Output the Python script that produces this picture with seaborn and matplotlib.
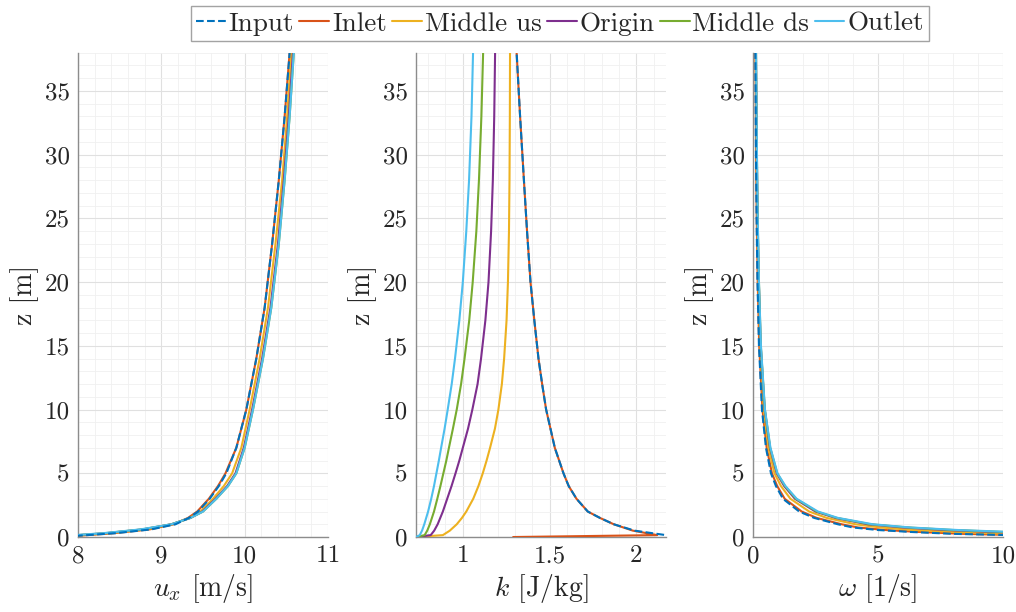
import numpy as np
import pandas as pd
import seaborn as sns
import matplotlib
matplotlib.use("Agg")
import matplotlib.pyplot as plt
from matplotlib.ticker import MultipleLocator, FuncFormatter

# case names, matlab default colours
cases = ["Input", "Inlet", "Middle us", "Origin", "Middle ds", "Outlet"]
colors = ["#0072BD", "#D95319", "#EDB120", "#7E2F8E", "#77AC30", "#4DBEEE"]

# ---- velocity u_x [m/s]
z_u = [0, 0.1, 0.3, 0.6, 1, 1.5, 2, 3, 4, 5, 7, 10, 14, 18, 23, 28, 33, 38]
u_input = [7.7, 8.0, 8.45, 8.88, 9.17, 9.33, 9.44, 9.58, 9.69, 9.78, 9.9, 10.02, 10.14, 10.24, 10.33, 10.41, 10.48, 10.54]
u_inlet = [7.7, 8.0, 8.43, 8.86, 9.15, 9.32, 9.43, 9.57, 9.68, 9.77, 9.9, 10.02, 10.14, 10.24, 10.33, 10.41, 10.48, 10.54]
u_mid_us = [7.65, 7.95, 8.38, 8.82, 9.13, 9.34, 9.47, 9.62, 9.75, 9.85, 9.96, 10.06, 10.18, 10.28, 10.37, 10.45, 10.51, 10.56]
u_origin = [7.62, 7.9, 8.34, 8.78, 9.12, 9.35, 9.49, 9.65, 9.79, 9.89, 9.99, 10.09, 10.21, 10.31, 10.4, 10.47, 10.53, 10.58]
u_mid_ds = [7.6, 7.88, 8.32, 8.77, 9.12, 9.35, 9.5, 9.66, 9.8, 9.9, 10.0, 10.1, 10.22, 10.32, 10.41, 10.48, 10.54, 10.59]
u_outlet = [7.6, 7.85, 8.3, 8.75, 9.12, 9.35, 9.5, 9.66, 9.8, 9.9, 10.0, 10.1, 10.22, 10.32, 10.41, 10.48, 10.54, 10.59]

# ---- turbulent kinetic energy k [J/kg]
z_k = [0, 0.15, 0.5, 1, 1.5, 2, 3, 4, 5, 6, 7, 8.5, 10, 12, 14, 17, 20, 24, 28, 33, 38]
k_input = [2.35, 2.17, 1.99, 1.87, 1.79, 1.72, 1.655, 1.61, 1.58, 1.555, 1.53, 1.505, 1.48, 1.457, 1.436, 1.412, 1.39, 1.37, 1.352, 1.33, 1.31]
k_inlet = [1.29, 2.12, 1.98, 1.87, 1.79, 1.72, 1.655, 1.61, 1.58, 1.555, 1.53, 1.505, 1.48, 1.457, 1.436, 1.412, 1.39, 1.37, 1.352, 1.33, 1.31]
k_mid_us = [0.73, 0.885, 0.925, 0.965, 0.995, 1.02, 1.06, 1.09, 1.115, 1.137, 1.157, 1.185, 1.205, 1.225, 1.238, 1.252, 1.26, 1.266, 1.269, 1.271, 1.272]
k_origin = [0.73, 0.815, 0.835, 0.855, 0.87, 0.885, 0.91, 0.935, 0.958, 0.98, 1.0, 1.03, 1.055, 1.085, 1.105, 1.13, 1.148, 1.163, 1.173, 1.181, 1.186]
k_mid_ds = [0.73, 0.78, 0.795, 0.81, 0.822, 0.834, 0.853, 0.871, 0.888, 0.905, 0.92, 0.943, 0.965, 0.99, 1.01, 1.037, 1.057, 1.078, 1.093, 1.107, 1.117]
k_outlet = [0.73, 0.752, 0.765, 0.778, 0.789, 0.8, 0.818, 0.834, 0.848, 0.862, 0.875, 0.895, 0.913, 0.936, 0.955, 0.98, 1.0, 1.02, 1.036, 1.05, 1.059]

# ---- specific dissipation omega [1/s]
z_w = [0.05, 0.16, 0.25, 0.4, 0.55, 0.75, 1, 1.5, 2, 3, 4, 5, 7, 10, 15, 20, 25, 30, 38]
w_input = [14, 10, 8.0, 6.3, 5.0, 4.0, 3.4, 2.45, 1.85, 1.2, 0.92, 0.72, 0.52, 0.36, 0.24, 0.18, 0.145, 0.12, 0.095]
w_inlet = [14.5, 10.4, 8.4, 6.6, 5.3, 4.2, 3.55, 2.55, 1.95, 1.27, 0.97, 0.76, 0.55, 0.38, 0.25, 0.19, 0.15, 0.125, 0.1]
w_mid_us = [17, 12, 10, 8.0, 6.4, 5.1, 4.1, 2.95, 2.25, 1.5, 1.12, 0.86, 0.62, 0.43, 0.29, 0.22, 0.175, 0.145, 0.115]
w_origin = [19, 13.5, 11.5, 9.6, 7.7, 6.0, 4.6, 3.3, 2.5, 1.68, 1.25, 0.95, 0.68, 0.47, 0.31, 0.235, 0.185, 0.155, 0.12]
w_mid_ds = [19.5, 13.8, 11.8, 10.0, 8.0, 6.2, 4.7, 3.35, 2.55, 1.72, 1.28, 0.97, 0.69, 0.475, 0.315, 0.24, 0.19, 0.158, 0.123]
w_outlet = [20, 14, 12, 10.3, 8.2, 6.3, 4.8, 3.4, 2.6, 1.75, 1.3, 0.98, 0.7, 0.48, 0.32, 0.24, 0.19, 0.16, 0.125]

panels = [
    (z_u, [u_input, u_inlet, u_mid_us, u_origin, u_mid_ds, u_outlet], r"$u_x$ [m/s]", (8, 11), 1, 0.2),
    (z_k, [k_input, k_inlet, k_mid_us, k_origin, k_mid_ds, k_outlet], r"$k$ [J/kg]", (0.73, 2.17), 0.5, 0.1),
    (z_w, [w_input, w_inlet, w_mid_us, w_origin, w_mid_ds, w_outlet], r"$\omega$ [1/s]", (0, 10), 5, 1),
]

sns.set_style("white")
plt.rcParams["font.family"] = "serif"
plt.rcParams["font.serif"] = ["cmr10"]
plt.rcParams["mathtext.fontset"] = "cm"
plt.rcParams["axes.formatter.use_mathtext"] = True

fig = plt.figure(figsize=(10.16, 6.12), dpi=100)
lefts = [0.0768, 0.4094, 0.7411]
axes = [fig.add_axes([l, 0.1225, 0.246, 0.7915]) for l in lefts]

for ax, (zz, series, xlabel, xlim, major, minor) in zip(axes, panels):
    # plot the cases first, input dashed on top
    order = [1, 2, 3, 4, 5, 0]
    for i in order:
        df = pd.DataFrame({"z": zz, "v": series[i]})
        if i == 0:
            sns.lineplot(data=df, x="v", y="z", orient="y", sort=False, estimator=None,
                         color=colors[i], linestyle="--", linewidth=1.5, ax=ax, label=cases[i], zorder=5)
        else:
            sns.lineplot(data=df, x="v", y="z", orient="y", sort=False, estimator=None,
                         color=colors[i], linewidth=1.5, ax=ax, label=cases[i], zorder=3)
    ax.set_xlim(*xlim)
    ax.set_ylim(0, 38)
    ax.xaxis.set_major_locator(MultipleLocator(major))
    ax.xaxis.set_minor_locator(MultipleLocator(minor))
    ax.yaxis.set_major_locator(MultipleLocator(5))
    ax.yaxis.set_minor_locator(MultipleLocator(1))
    ax.xaxis.set_major_formatter(FuncFormatter(lambda v, p: "%g" % v))
    ax.yaxis.set_major_formatter(FuncFormatter(lambda v, p: "%g" % v))
    ax.grid(which="major", color="#e0e0e0", linewidth=0.8)
    ax.grid(which="minor", color="#f0f0f0", linewidth=0.6)
    ax.set_axisbelow(True)
    for s in ["top", "right"]:
        ax.spines[s].set_visible(False)
    for s in ["left", "bottom"]:
        ax.spines[s].set_color("#8c8c8c")
        ax.spines[s].set_linewidth(1.0)
    ax.tick_params(which="major", direction="in", length=4, width=0.8, color="#8c8c8c",
                   labelsize=18, labelcolor="#262626", pad=6)
    ax.tick_params(which="minor", length=0)
    ax.set_xlabel(xlabel, fontsize=20, color="#262626", labelpad=3)
    ax.set_ylabel("z [m]", fontsize=20, color="#262626", labelpad=4)
    ax.get_legend().remove()

handles, labels = axes[0].get_legend_handles_labels()
hmap = dict(zip(labels, handles))
leg = fig.legend([hmap[c] for c in cases], cases, loc="center", bbox_to_anchor=(0.551, 0.961),
                 ncol=6, frameon=True, fancybox=False, fontsize=19.5, handlelength=1.1,
                 handletextpad=0.1, columnspacing=0.2, borderpad=0.2, borderaxespad=0)
leg.get_frame().set_edgecolor("#8c8c8c")
leg.get_frame().set_linewidth(1.0)

fig.savefig("out.png", dpi=100)
